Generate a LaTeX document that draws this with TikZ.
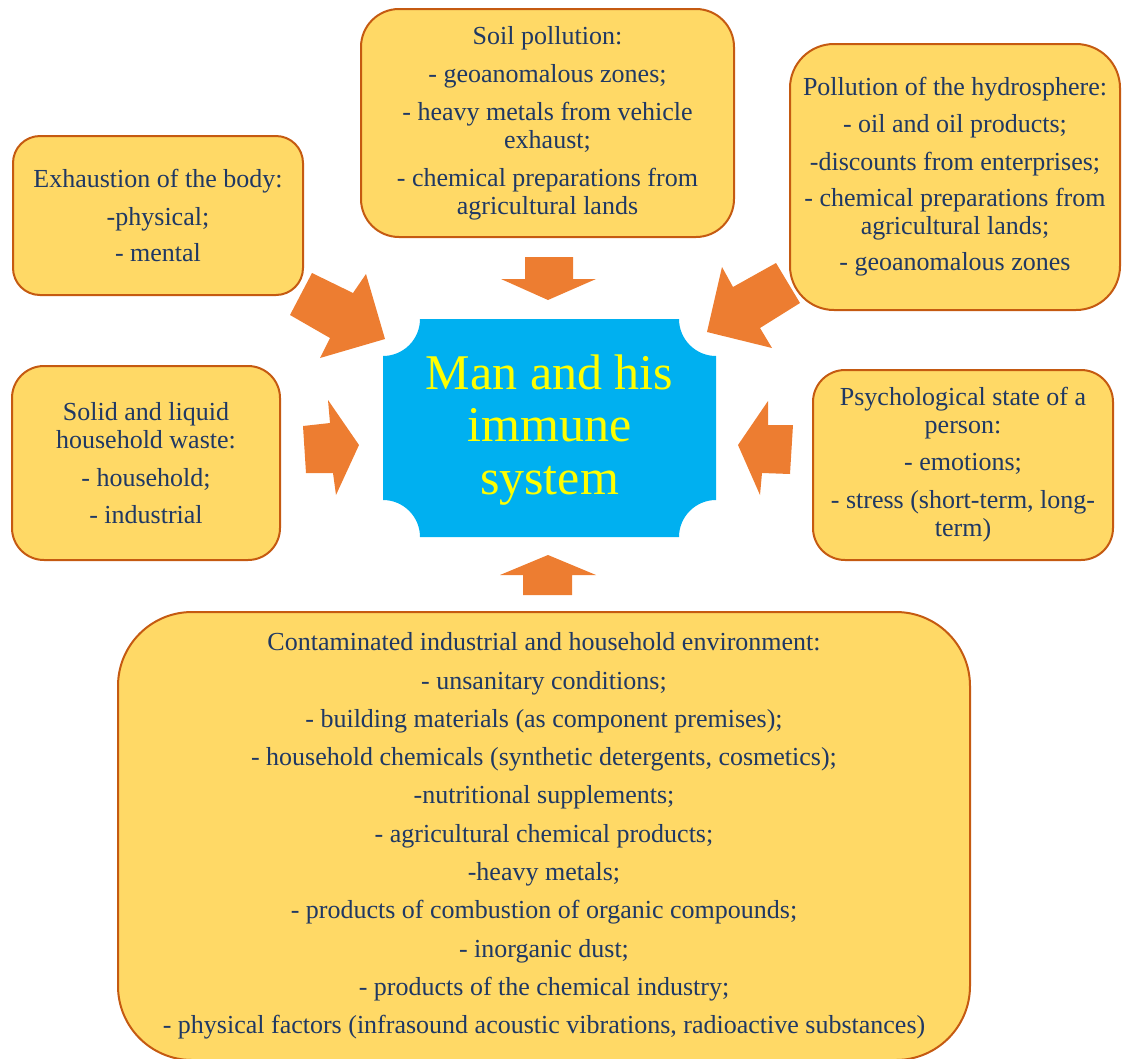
\documentclass[tikz,border=0pt]{standalone}
\usepackage{fontspec}
\setmainfont{Liberation Serif}
\definecolor{boxfill}{HTML}{FFD966}
\definecolor{boxborder}{HTML}{C55A11}
\definecolor{navy}{HTML}{1F3864}
\definecolor{arroworange}{HTML}{ED7D31}
\definecolor{centerblue}{HTML}{00B0F0}
\definecolor{centertext}{HTML}{FFFF00}
\begin{document}
\begin{tikzpicture}[x=1pt,y=-1pt,
  box/.style={draw=boxborder, line width=2pt, fill=boxfill, rounded corners=#1,
    align=center, text=navy, font=\fontsize{26}{28}\selectfont, inner sep=0pt},
  blockarrow/.style={fill=arroworange, draw=none}]
\useasboundingbox (0,0) rectangle (1122,1058);

% centre plaque
\fill[centerblue] (420,319) -- (679,319)
  .. controls (679,339.4) and (695.6,356) .. (716,356) -- (716,500)
  .. controls (695.6,500) and (679,516.6) .. (679,537) -- (420,537)
  .. controls (420,516.6) and (403.4,500) .. (383,500) -- (383,356)
  .. controls (403.4,356) and (420,339.4) .. (420,319) -- cycle;
\node[text=centertext, align=center, font=\fontsize{50}{52.5}\selectfont, inner sep=0pt]
  (man) at (549.5,430) {Man and his\\immune\\system};

% block arrows
\fill[blockarrow] (525,257) -- (573,257) -- (573,279) -- (596,279) -- (548,300) -- (501,279) -- (525,279) -- cycle;
\fill[blockarrow] (523,595) -- (572,595) -- (572,575) -- (596,575) -- (548,555) -- (500,575) -- (523,575) -- cycle;
\fill[blockarrow] (303,426) -- (330,423) -- (328,400) -- (359,445) -- (336,495) -- (333,473) -- (306,473) -- cycle;
\fill[blockarrow] (793,425) -- (768,425) -- (768,401) -- (738,445) -- (760,495) -- (762,473) -- (790,474) -- cycle;
\fill[blockarrow] (312,273) -- (353,293) -- (366,274) -- (385,339) -- (320,358) -- (330,338) -- (290,315) -- cycle;
\fill[blockarrow] (776,263) -- (733,287) -- (722,267) -- (707,332) -- (772,348) -- (760,328) -- (800,303) -- cycle;

% boxes
\node[box=38pt, minimum width=373pt, minimum height=228pt] (soil) at (547.5,123)
  {Soil pollution:\\[10pt]- geoanomalous zones;\\[10pt]- heavy metals from vehicle\\exhaust;\\[10pt]- chemical preparations from\\agricultural lands};
\node[box=27pt, minimum width=290pt, minimum height=159pt] (exh) at (158,215.5)
  {Exhaustion of the body:\\[10pt]-physical;\\[8pt]- mental};
\node[box=44pt, minimum width=330pt, minimum height=266pt] (hydro) at (955,177)
  {Pollution of the hydrosphere:\\[9pt]- oil and oil products;\\[10pt]-discounts from enterprises;\\[8pt]- chemical preparations from\\agricultural lands;\\[8pt]- geoanomalous zones};
\node[box=32pt, minimum width=268pt, minimum height=194pt] (waste) at (146,463)
  {Solid and liquid\\household waste:\\[10pt]- household;\\[9pt]- industrial};
\node[box=32pt, minimum width=300pt, minimum height=190pt] (psych) at (963,465)
  {Psychological state of a\\person:\\[9pt]- emotions;\\[10pt]- stress (short-term, long-\\term)};
\node[box=74pt, minimum width=852pt, minimum height=448pt] (env) at (544,836)
  {Contaminated industrial and household environment:\\[10.3pt]
   - unsanitary conditions;\\[10.3pt]
   - building materials (as component premises);\\[10.3pt]
   - household chemicals (synthetic detergents, cosmetics);\\[10.3pt]
   -nutritional supplements;\\[10.3pt]
   - agricultural chemical products;\\[10.3pt]
   -heavy metals;\\[10.3pt]
   - products of combustion of organic compounds;\\[10.3pt]
   - inorganic dust;\\[10.3pt]
   - products of the chemical industry;\\[10.3pt]
   - physical factors (infrasound acoustic vibrations, radioactive substances)};
\end{tikzpicture}
\end{document}
